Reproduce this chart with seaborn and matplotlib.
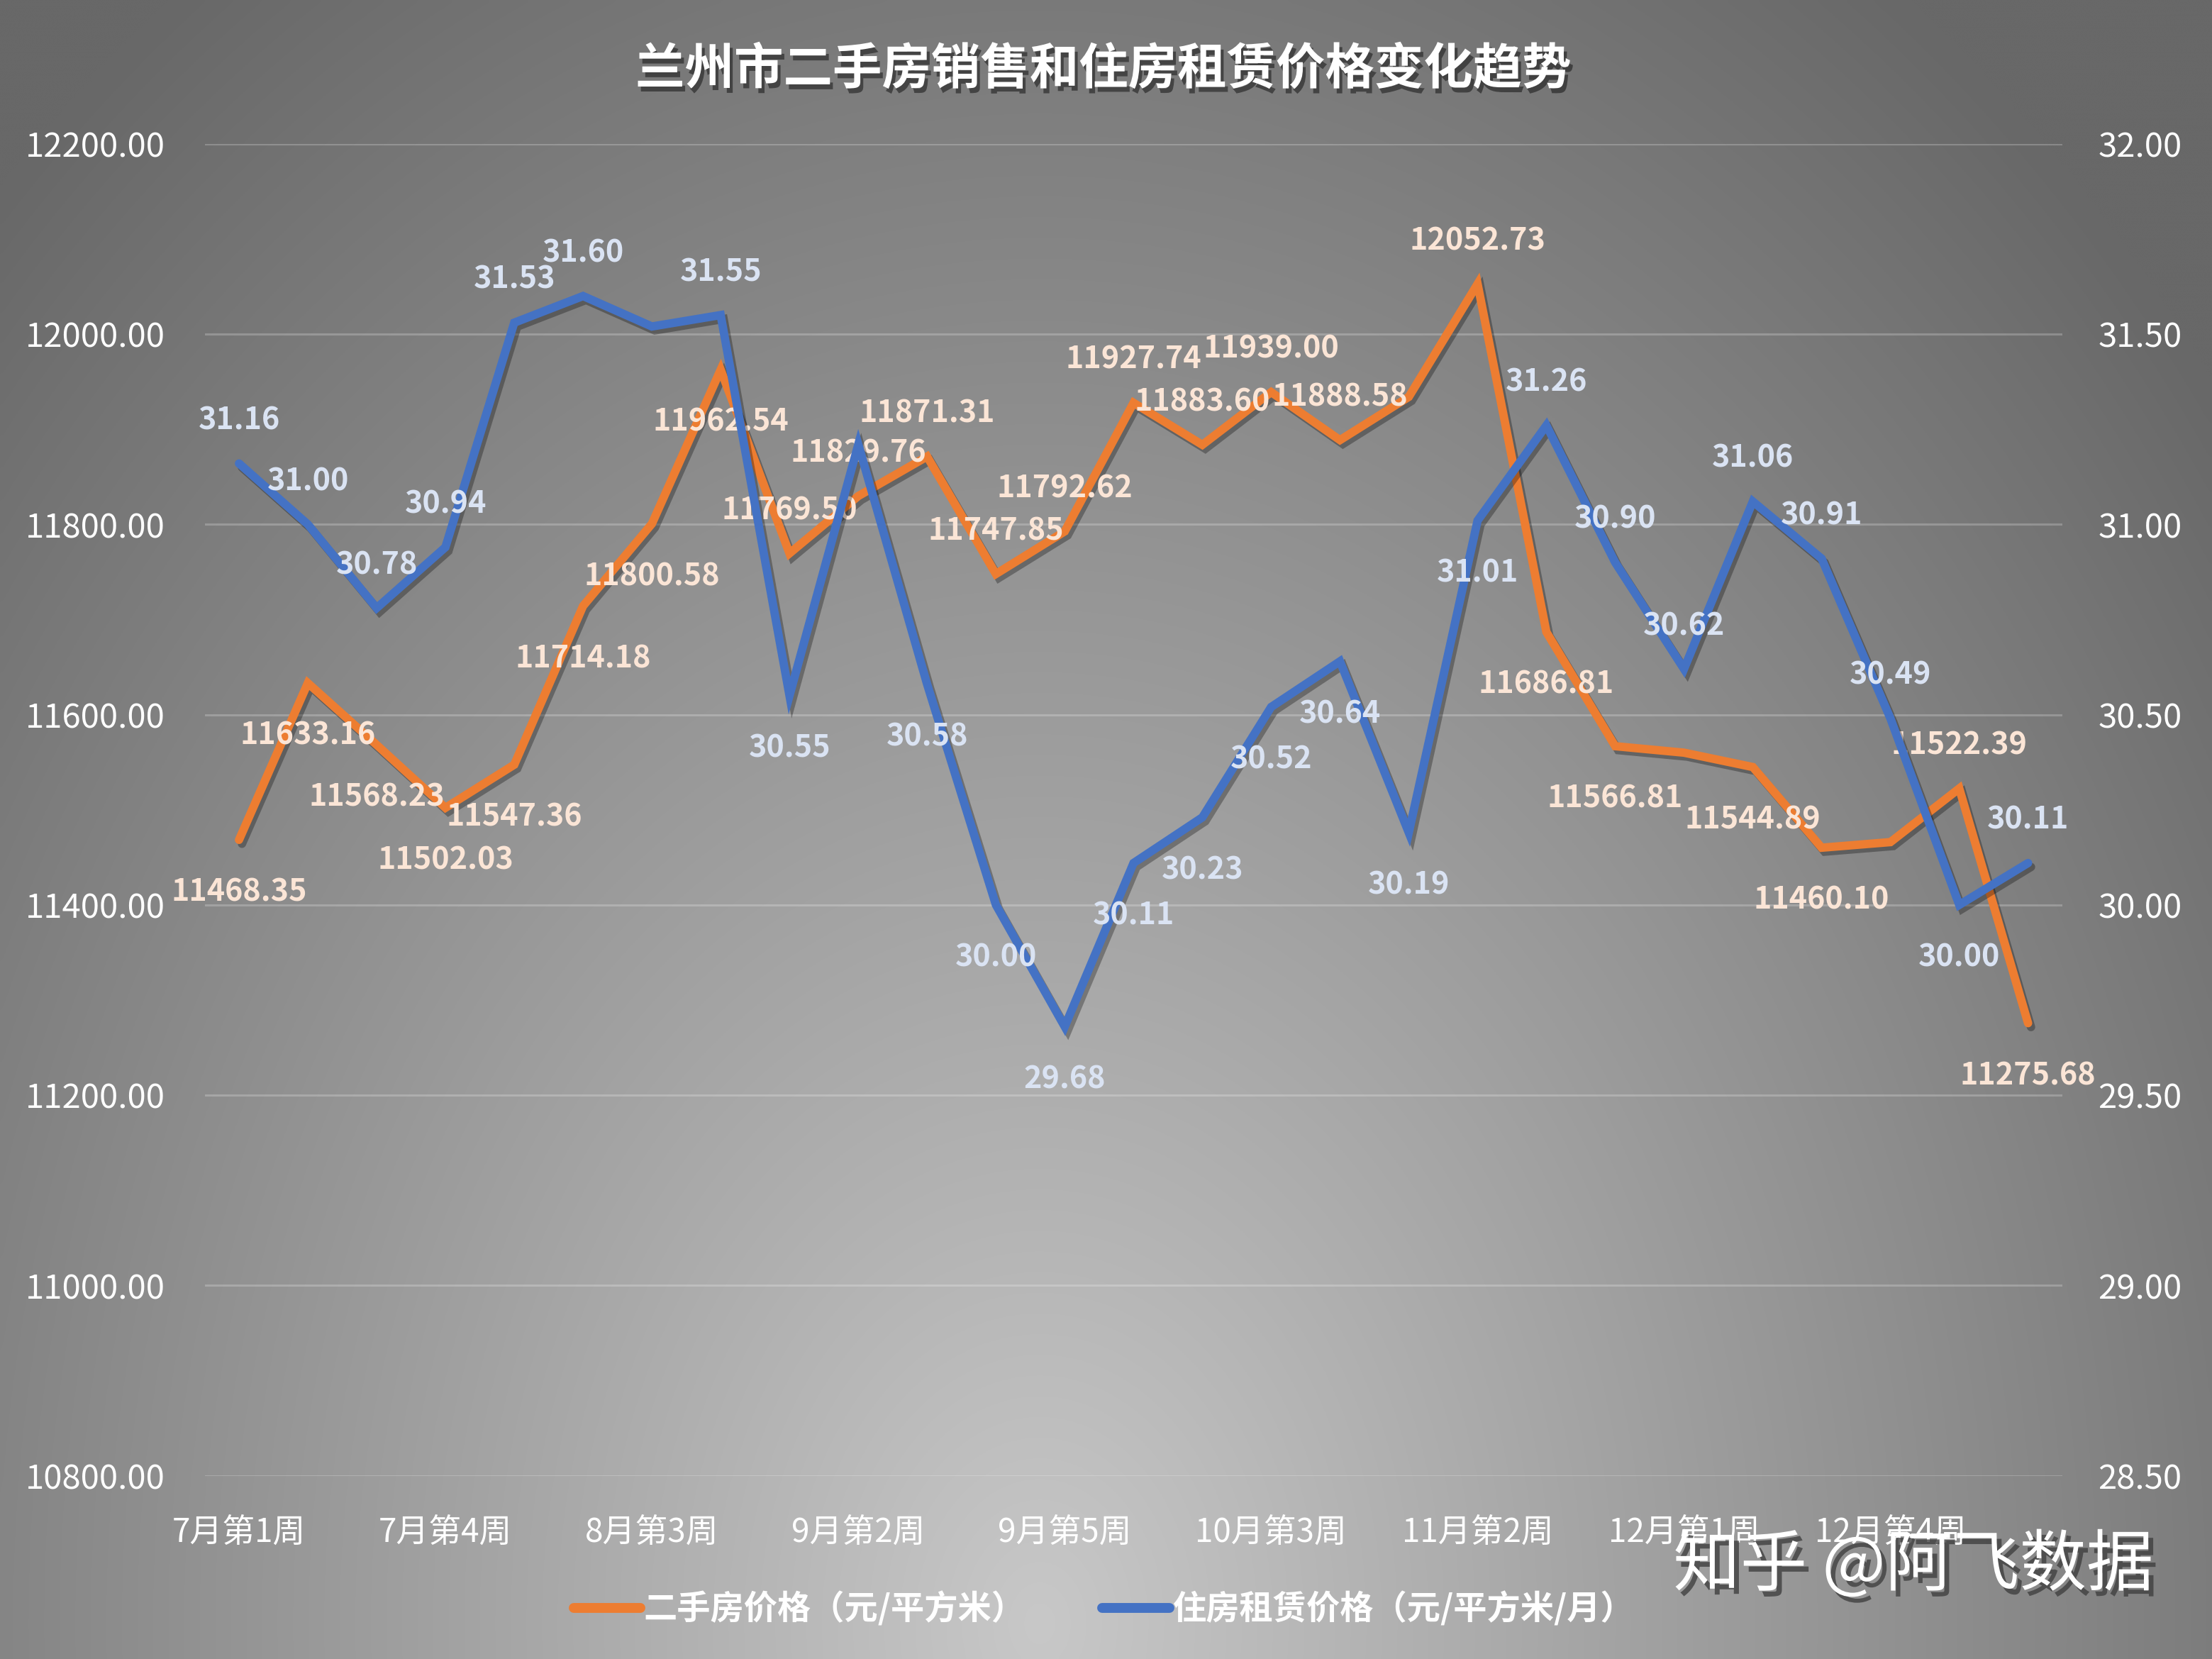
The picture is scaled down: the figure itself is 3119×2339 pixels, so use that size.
import numpy as np
import pandas as pd
import matplotlib
matplotlib.use("Agg")
import matplotlib.pyplot as plt
import matplotlib.patheffects as pe
from matplotlib.lines import Line2D
import seaborn as sns

# ---------------- data ----------------
weeks = ["7月第1周", "7月第2周", "7月第3周", "7月第4周", "8月第1周", "8月第2周",
         "8月第3周", "8月第4周", "9月第1周", "9月第2周", "9月第3周", "9月第4周",
         "9月第5周", "10月第1周", "10月第2周", "10月第3周", "10月第4周", "11月第1周",
         "11月第2周", "11月第3周", "11月第4周", "12月第1周", "12月第2周", "12月第3周",
         "12月第4周", "12月第5周", "1月第1周"]

house_price = [11468.35, 11633.16, 11568.23, 11502.03, 11547.36, 11714.18, 11800.58,
               11962.54, 11769.50, 11829.76, 11871.31, 11747.85, 11792.62, 11927.74,
               11883.60, 11939.00, 11888.58, 11934.00, 12052.73, 11686.81, 11566.81,
               11560.00, 11544.89, 11460.10, 11466.00, 11522.39, 11275.68]

rent_price = [31.16, 31.00, 30.78, 30.94, 31.53, 31.60, 31.52, 31.55, 30.55, 31.21,
              30.58, 30.00, 29.68, 30.11, 30.23, 30.52, 30.64, 30.19, 31.01, 31.26,
              30.90, 30.62, 31.06, 30.91, 30.49, 30.00, 30.11]

left_ticks = [10800, 11000, 11200, 11400, 11600, 11800, 12000, 12200]
right_ticks = [28.5, 29.0, 29.5, 30.0, 30.5, 31.0, 31.5, 32.0]

title = "兰州市二手房销售和住房租赁价格变化趋势"
name_house = "二手房价格（元/平方米）"
name_rent = "住房租赁价格（元/平方米/月）"
watermark = "知乎 @阿飞数据"

# label placement (1 = above, -1 = below, 0 = hidden)
house_label_pos = [-1, -1, -1, -1, -1, -1, -1, -1, 1, 1, 1, 1, 1, 1, 1, 1, 1, 0,
                   1, -1, -1, 0, -1, -1, 0, 1, -1]
rent_label_pos = [1, 1, 1, 1, 1, 1, 0, 1, -1, 0, -1, -1, -1, -1, -1, -1, -1, -1,
                  -1, 1, 1, 1, 1, 1, 1, -1, 1]

df = pd.DataFrame({"idx": np.arange(len(weeks)), "week": weeks,
                   "house": house_price, "rent": rent_price})

# ---------------- style ----------------
sns.set_style("white")
plt.rcParams["font.family"] = ["Noto Sans CJK SC", "DejaVu Sans"]
plt.rcParams["axes.unicode_minus"] = False

ORANGE = "#ED7D31"
BLUE = "#4472C4"
ORANGE_LBL = "#FBE5D6"
BLUE_LBL = "#DAE3F3"

W, H = 3119, 2339
fig = plt.figure(figsize=(W / 100, H / 100), dpi=100)

# background radial gradient
bg = fig.add_axes([0, 0, 1, 1], zorder=-10)
yy, xx = np.mgrid[0:1:400j, 0:1:520j]
d = np.sqrt(((xx - 0.47) / 0.62) ** 2 + ((yy - 0.98) / 1.1) ** 2)
d = np.clip(d, 0, 1.15)
g = 200 - 88 * d
g = np.clip(g, 104, 205) / 255.0
img = np.dstack([g, g, g])
bg.imshow(img, aspect="auto", extent=[0, 1, 0, 1], origin="upper", interpolation="bicubic")
bg.set_axis_off()

ax = fig.add_axes([0.0925, 0.1105, 0.8399, 0.8028])
ax.set_facecolor("none")
ax2 = ax.twinx()
ax2.set_facecolor("none")

shadow = [pe.SimpleLineShadow(offset=(3, -4), shadow_color="black", alpha=0.3),
          pe.Normal()]

sns.lineplot(data=df, x="idx", y="house", ax=ax, color=ORANGE, linewidth=8.5,
             solid_capstyle="round", solid_joinstyle="miter", legend=False,
             path_effects=shadow)
sns.lineplot(data=df, x="idx", y="rent", ax=ax2, color=BLUE, linewidth=8.5,
             solid_capstyle="round", solid_joinstyle="miter", legend=False,
             path_effects=shadow)

ax.set_xlim(-0.5, len(weeks) - 0.5)
ax.set_ylim(left_ticks[0], left_ticks[-1])
ax2.set_ylim(right_ticks[0], right_ticks[-1])
ax.set_yticks(left_ticks)
ax.set_yticklabels([f"{v:.2f}" for v in left_ticks])
ax2.set_yticks(right_ticks)
ax2.set_yticklabels([f"{v:.2f}" for v in right_ticks])

xt = list(range(0, len(weeks), 3))
ax.set_xticks(xt)
ax.set_xticklabels([weeks[i] for i in xt])
ax.set_xlabel("")
ax.set_ylabel("")
ax2.set_ylabel("")

for a in (ax, ax2):
    for s in a.spines.values():
        s.set_visible(False)
ax.tick_params(axis="y", length=0, pad=40, labelsize=34, labelcolor="white")
ax2.tick_params(axis="y", length=0, pad=36, labelsize=34, labelcolor="white")
ax.tick_params(axis="x", length=0, pad=40, labelsize=33, labelcolor="white")

ax.grid(axis="y", color="white", alpha=0.22, linewidth=2.2)
ax.grid(axis="x", visible=False)
ax2.grid(False)

# data labels
def offset(p):
    return 44 if p > 0 else -53

for i, (v, p) in enumerate(zip(house_price, house_label_pos)):
    if p == 0:
        continue
    ax.annotate(f"{v:.2f}", (i, v), xytext=(0, offset(p)), textcoords="offset points",
                ha="center", va="center", fontsize=31, fontweight="bold",
                color=ORANGE_LBL, zorder=5)
for i, (v, p) in enumerate(zip(rent_price, rent_label_pos)):
    if p == 0:
        continue
    ax2.annotate(f"{v:.2f}", (i, v), xytext=(0, offset(p)), textcoords="offset points",
                 ha="center", va="center", fontsize=31, fontweight="bold",
                 color=BLUE_LBL, zorder=5)

# title
fig.text(0.499, 0.958, title, ha="center", va="center", fontsize=50,
         fontweight="bold", color="white",
         path_effects=[pe.withSimplePatchShadow(offset=(3, -5), shadow_rgbFace="black", alpha=0.45)])

# legend
handles = [Line2D([0], [0], color=ORANGE, lw=10, solid_capstyle="round"),
           Line2D([0], [0], color=BLUE, lw=10, solid_capstyle="round")]
leg = fig.legend(handles, [name_house, name_rent], loc="center",
                 bbox_to_anchor=(0.499, 0.030), ncol=2, frameon=False,
                 handlelength=2.0, handletextpad=0.1, columnspacing=2.3,
                 prop={"size": 34, "weight": "bold"})
for t in leg.get_texts():
    t.set_color("white")

# watermark
fig.text(0.865, 0.056, watermark, ha="center", va="center", fontsize=68,
         color="white",
         path_effects=[pe.withSimplePatchShadow(offset=(5, -6), shadow_rgbFace="#404040", alpha=0.8)])

fig.savefig("out.png", dpi=100)
